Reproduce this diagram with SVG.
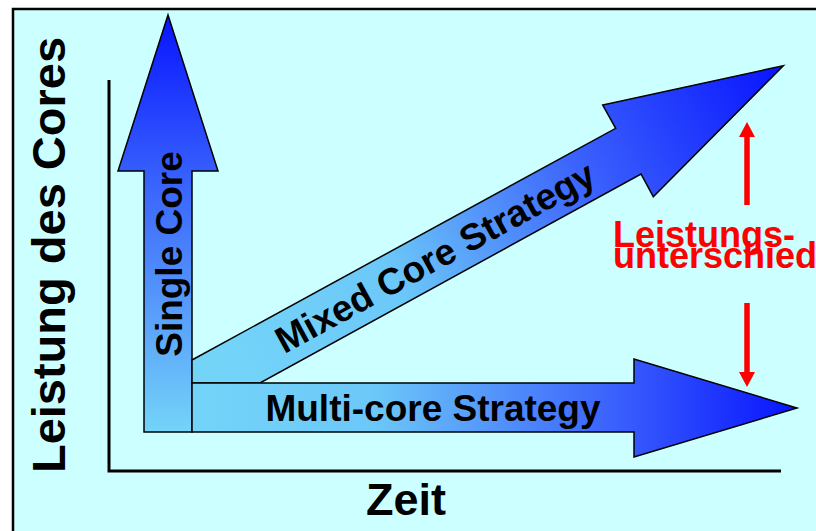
<svg xmlns="http://www.w3.org/2000/svg" width="816" height="531" viewBox="0 0 816 531">
<defs>
<style>
.t{font-family:"Liberation Sans",Arial,sans-serif;font-weight:bold;}
.blk{fill:#000;}
.red{fill:#FF0000;}
.arr{stroke:#000;stroke-width:1.5;stroke-linejoin:miter;}
.axis{stroke:#000;stroke-width:3;fill:none;}
.rl{stroke:#FF0000;stroke-width:5.5;fill:none;}
</style>
<linearGradient id="gS" gradientUnits="userSpaceOnUse" x1="168" y1="15" x2="168" y2="432">
<stop offset="0" stop-color="#0814FF"/>
<stop offset="0.45" stop-color="#3E6CFC"/>
<stop offset="1" stop-color="#74D4F8"/>
</linearGradient>
<linearGradient id="gM" gradientUnits="userSpaceOnUse" x1="192" y1="0" x2="797" y2="0">
<stop offset="0" stop-color="#74D4F8"/>
<stop offset="0.3" stop-color="#6CC8F8"/>
<stop offset="0.7" stop-color="#3A60FC"/>
<stop offset="1" stop-color="#0814FF"/>
</linearGradient>
<linearGradient id="gX" gradientUnits="userSpaceOnUse" x1="226" y1="371" x2="783" y2="66">
<stop offset="0" stop-color="#74D4F8"/>
<stop offset="0.3" stop-color="#6CC8F8"/>
<stop offset="0.65" stop-color="#3A60FC"/>
<stop offset="1" stop-color="#0814FF"/>
</linearGradient>
<marker id="rh" viewBox="0 0 15 16" refX="0" refY="8" markerWidth="15" markerHeight="16" markerUnits="userSpaceOnUse" orient="auto">
<path d="M0,0 L15,8 L0,16 z" fill="#FF0000"/>
</marker>
</defs>
<rect x="0" y="0" width="816" height="531" fill="#FFFFFF"/>
<rect id="frame" x="13" y="9" width="830" height="560" fill="#CCFFFF" stroke="#000" stroke-width="2.5"/>
<g id="connectors">
<path class="axis" d="M109,80 L109,471 L781,471"/>
<line class="rl" x1="747" y1="205" x2="747" y2="137" marker-end="url(#rh)"/>
<line class="rl" x1="747" y1="303" x2="747" y2="372" marker-end="url(#rh)"/>
</g>
<g id="single-core">
<polygon class="arr" fill="url(#gS)" points="144,432 144,171 118,171 168,15 218,171 192,171 192,432"/>
<text class="t blk" font-size="37" text-anchor="middle" transform="translate(182,254) rotate(-90)">Single Core</text>
</g>
<g id="mixed-core">
<polygon class="arr" fill="url(#gX)" points="192,360 615.7,128.3 602.7,105 783.3,65.7 653.3,196.7 641,174 260,383 192,383"/>
<text class="t blk" font-size="37" text-anchor="middle" transform="translate(435,257) rotate(-28.7)" y="13">Mixed Core Strategy</text>
</g>
<g id="multi-core">
<polygon class="arr" fill="url(#gM)" points="192,383 634,383 634,359 797,408 634,457 634,432 192,432"/>
<text class="t blk" font-size="37" text-anchor="middle" x="433" y="421">Multi-core Strategy</text>
</g>
<g id="y-label">
<text class="t blk" font-size="47" text-anchor="middle" transform="translate(65,255) rotate(-90)">Leistung des Cores</text>
</g>
<g id="x-label">
<text class="t blk" font-size="45" text-anchor="middle" x="406" y="515">Zeit</text>
</g>
<g id="diff-label">
<text class="t red" font-size="36" x="613" y="247">Leistungs-</text>
<text class="t red" font-size="36" x="613" y="268">unterschied</text>
</g>
</svg>
